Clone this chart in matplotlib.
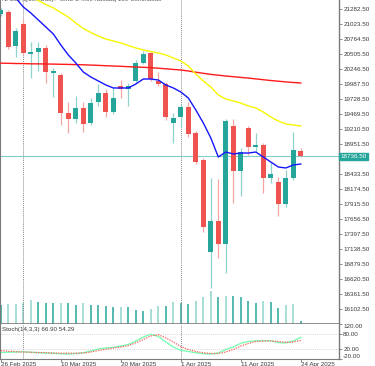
import matplotlib
matplotlib.use("Agg")
import matplotlib.pyplot as plt
import matplotlib.transforms as mtransforms
import numpy as np
import pandas as pd

plt.rcParams["font.family"] = ["Liberation Sans", "DejaVu Sans"]
plt.rcParams["font.size"] = 4.5

# daily bars, 26 Feb - 24 Apr 2025 (no bar on Good Friday)
dates = pd.bdate_range("2025-02-26", "2025-04-24").drop(pd.Timestamp("2025-04-18"))

opens = [21201, 21230, 20652, 21023, 20509, 20549, 20613, 20185, 20146, 19483, 19389,
         19580, 19310, 19673, 19839, 19505, 19950, 19898, 20050, 20348, 20521, 20042,
         19998, 19310, 19414, 19597, 19137, 18675, 17089, 17625, 17217, 19268, 18490,
         19234, 18900, 18934, 18369, 18300, 17914, 18358, 18836]
highs = [21305, 21270, 20953, 21114, 20722, 20722, 20665, 20267, 20180, 19684, 19782,
         19684, 19742, 19985, 19903, 19915, 20059, 20007, 20405, 20561, 20549, 20203,
         20024, 19493, 19644, 19684, 19177, 18704, 18358, 18346, 19384, 19379, 18877,
         19263, 19137, 18969, 18646, 18386, 18502, 19165, 18877]
lows = [21166, 20595, 20462, 20492, 20088, 20220, 20002, 19770, 19280, 19147, 19310,
        19165, 19280, 19614, 19414, 19471, 19742, 19614, 20024, 20336, 20042, 19947,
        19367, 18974, 19251, 19078, 18606, 17435, 16455, 16974, 16725, 17926, 18057,
        18762, 18819, 18109, 18272, 17706, 17867, 18329, 18730]
closes = [21270, 20635, 20907, 20531, 20543, 20621, 20192, 20215, 19483, 19389, 19569,
          19293, 19666, 19829, 19505, 19742, 19898, 19950, 20358, 20517, 20076, 19998,
          19414, 19410, 19597, 19125, 18646, 17511, 17625, 17217, 19355, 18490, 18808,
          18905, 18934, 18369, 18428, 17909, 18358, 18848, 18736.5]
volumes = [590, 620, 629, 660, 753, 691, 639, 639, 660, 660, 598, 639, 577, 577, 567,
           515, 536, 536, 443, 412, 465, 567, 546, 691, 651, 620, 722, 846, 1011, 846,
           877, 877, 825, 722, 651, 713, 682, 505, 598, 629, 81]

ma_fast = [21824, 21651, 21478, 21322, 21218, 21097, 20976, 20855, 20665, 20492, 20353,
           20197, 20111, 20042, 19973, 19921, 19921, 19921, 19990, 20076, 20076, 20059,
           19973, 19921, 19851, 19748, 19540, 19315, 19056, 18727, 18813, 18779, 18796,
           18796, 18813, 18727, 18640, 18554, 18537, 18589, 18606]
ma_mid = [21824, 21737, 21651, 21564, 21495, 21434, 21365, 21305, 21227, 21149, 21045,
          20950, 20881, 20820, 20768, 20734, 20699, 20656, 20613, 20578, 20552, 20526,
          20492, 20440, 20388, 20301, 20163, 20042, 19938, 19800, 19730, 19696, 19661,
          19609, 19575, 19505, 19419, 19350, 19298, 19281, 19263]
ma_slow = [20350, 20348, 20344, 20343, 20339, 20338, 20336, 20334, 20331, 20329, 20325,
           20322, 20317, 20312, 20306, 20301, 20296, 20289, 20284, 20279, 20272, 20263,
           20253, 20242, 20232, 20215, 20194, 20175, 20156, 20142, 20128, 20116, 20104,
           20092, 20078, 20064, 20050, 20038, 20026, 20016, 20007]

stoch_main = [6, 7, 8, 9, 7, 5, 4, 3, 1, 0, 2, 5, 12, 20, 24, 26, 32, 38, 52, 68, 79,
              70, 48, 28, 15, 10, 5, 1, 0, 4, 18, 28, 43, 50, 53, 53, 53, 46, 44, 52, 66.9]
stoch_signal = [14, 11, 9, 8, 7, 6, 5, 4, 3, 3, 3, 4, 8, 14, 19, 24, 28, 34, 45, 58, 72,
                77, 65, 48, 30, 18, 10, 5, 2, 2, 8, 18, 32, 42, 50, 52, 52, 50, 47, 48, 54.29]

price_ticks = [21282.5 - 259 * i for i in range(21)]
bid = 18736.5

TEAL = "#26a69a"
RED = "#ef5350"
TEAL_L = "#8fd3cc"
RED_L = "#f5a5a3"
AXC = "#7a7a7a"
TXT = "#3a3a3a"

x = np.arange(len(dates))
opens, highs, lows, closes = map(np.array, (opens, highs, lows, closes))
up = closes >= opens

fig = plt.figure(figsize=(3.75, 3.66), dpi=100)
W, H = 375, 366
rect_main = [0, 42 / H, 339 / W, 324 / H]

ax_v = fig.add_axes(rect_main)
ax = fig.add_axes(rect_main, sharex=ax_v)
ax.patch.set_visible(False)
ax_st = fig.add_axes([0, 7 / H, 339 / W, 35 / H], sharex=ax_v)

# volumes
vol = np.array(volumes)
vol_up = np.r_[False, vol[1:] > vol[:-1]]
ax_v.vlines(x, 0, vol, colors=np.where(vol_up, TEAL_L, TEAL), lw=1.1)
ax_v.set_ylim(0, vol.max() * 9.93)
ax_v.axis("off")

# candles
ax.vlines(x, lows, highs, colors=np.where(up, TEAL_L, RED_L), lw=0.9, zorder=2)
body_lo = np.minimum(opens, closes)
body_h = np.maximum(np.abs(closes - opens), 20)
ax.bar(x, body_h, bottom=body_lo, width=0.7, color=np.where(up, TEAL, RED), lw=0, zorder=3)

# moving averages
ax.plot(x, ma_slow, color="#ff1a1a", lw=1.0, zorder=4)
ax.plot(x, ma_mid, color="#f7f700", lw=1.0, zorder=4)
ax.plot(x, ma_fast, color="#1515ff", lw=1.0, zorder=4)

ax.axhline(bid, color="#7fcfc8", lw=0.8, zorder=1)

ax.set_xlim(-0.11, 45.09)
ax.set_ylim(15838, 21443)
ax.yaxis.tick_right()
ax.set_yticks(price_ticks)
ax.set_yticklabels([f"{v:.2f}" for v in price_ticks])
ax.tick_params(axis="y", length=2, width=0.6, pad=1, colors=AXC, labelcolor=TXT, labelsize=4.5)
ax.tick_params(axis="x", bottom=False, labelbottom=False)
ax.spines["top"].set_visible(False)
for s in ("left", "right", "bottom"):
    ax.spines[s].set_color(AXC)
ax.spines["left"].set_linewidth(0.8)
ax.spines["right"].set_linewidth(1.0)
ax.spines["bottom"].set_linewidth(1.2)

bt = mtransforms.blended_transform_factory(ax.transAxes, ax.transData)
ax.text(1.004, bid, f"{bid:.2f}", transform=bt, ha="left", va="center", color="white",
        fontsize=4.5, zorder=10,
        bbox=dict(boxstyle="square,pad=0.15", fc=TEAL, ec=TEAL))

ax.text(0.006, 1.0, "NASDAQ100,Daily:  CME E-mini Nasdaq 100 Continuous",
        transform=ax.transAxes, ha="left", va="center", color="#555555", fontsize=4.5)

# month separators
seps = [i for i in range(1, len(dates)) if dates[i].month != dates[i - 1].month]
for i in seps:
    for a in (ax, ax_st):
        a.axvline(i, color="#8a8a8a", ls=(0, (1, 1)), lw=0.7, zorder=1)

# stochastic
ax_st.axhline(80, color="#c8c8c8", ls=(0, (1, 1.5)), lw=0.6)
ax_st.axhline(20, color="#c8c8c8", ls=(0, (1, 1.5)), lw=0.6)
ax_st.plot(x, stoch_main, color="#7dffb4", lw=1.0)
ax_st.plot(x, stoch_signal, color="#ff5a5a", lw=0.9, ls=(0, (1, 1)))
ax_st.set_ylim(-20, 120)
ax_st.yaxis.tick_right()
st_ticks = [120, 80, 20, -20]
ax_st.set_yticks(st_ticks)
ax_st.set_yticklabels([f"{v:.2f}" for v in st_ticks])
ax_st.tick_params(axis="y", length=2, width=0.6, pad=1, colors=AXC, labelcolor=TXT, labelsize=4.5)
labs = ax_st.get_yticklabels()
labs[0].set_va("top")
labs[-1].set_va("bottom")
ax_st.text(0.006, 0.83, f"Stoch(14,3,3) {stoch_main[-1]:.2f} {stoch_signal[-1]:.2f}",
           transform=ax_st.transAxes, ha="left", va="center", color=TXT, fontsize=4.5)

date_idx = list(range(0, len(dates), 8))
ax_st.set_xticks(date_idx)
ax_st.set_xticklabels([f"{dates[i].day} {dates[i]:%b %Y}" for i in date_idx], ha="left")
ax_st.tick_params(axis="x", length=2, width=0.6, pad=0.5, colors=AXC, labelcolor=TXT, labelsize=4.5)
ax_st.spines["top"].set_visible(False)
for s in ("left", "right", "bottom"):
    ax_st.spines[s].set_color(AXC)
ax_st.spines["right"].set_linewidth(1.0)

fig.savefig("out.png", dpi=100, facecolor="white")
